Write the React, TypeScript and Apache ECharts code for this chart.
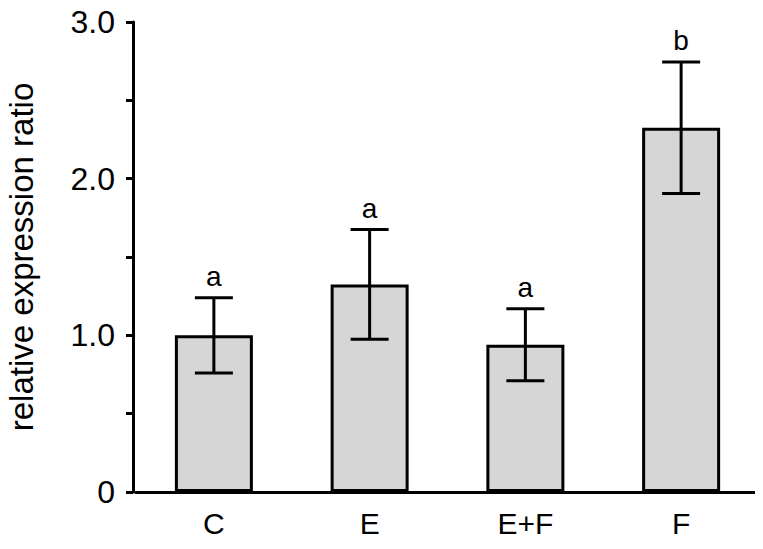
import React, { useEffect, useRef } from "react";
import * as echarts from "echarts";

const categories = ["C", "E", "E+F", "F"];
const means = [1.0, 1.325, 0.94, 2.325];
const errors = [0.24, 0.35, 0.23, 0.42];
const letters = ["a", "a", "a", "b"];
const yTicks = [0, 1, 2, 3];

export default function App() {
  const ref = useRef<HTMLDivElement>(null);
  useEffect(() => {
    const chart = echarts.init(ref.current!, undefined, { renderer: "svg" });
    const font = "Liberation Sans, Arial, sans-serif";
    chart.setOption({
      animation: false,
      grid: { left: 136, right: 4, top: 22, bottom: 57, outerBoundsMode: "none", containLabel: false },
      xAxis: {
        type: "category",
        data: categories,
        axisLine: { lineStyle: { color: "#000", width: 3 } },
        axisTick: { show: false },
        axisLabel: { color: "#000", fontSize: 30, fontFamily: font, margin: 16 },
      },
      yAxis: {
        type: "value",
        min: 0,
        max: 3,
        interval: 0.5,
        offset: 3,
        name: "relative expression ratio",
        nameLocation: "middle",
        nameGap: 95,
        nameTextStyle: { color: "#000", fontSize: 33, fontFamily: font },
        axisLine: { show: true, lineStyle: { color: "#000", width: 3 } },
        axisTick: { show: true, length: 7, lineStyle: { color: "#000", width: 3 } },
        splitLine: { show: false },
        axisLabel: {
          color: "#000",
          fontSize: 32,
          fontFamily: font,
          margin: 18,
          formatter: (v: number) =>
            yTicks.includes(v) ? (v === 0 ? "0" : v.toFixed(1)) : "",
        },
      },
      series: [
        {
          type: "bar",
          data: means,
          barWidth: 78,
          itemStyle: { color: "#d6d6d6", borderColor: "#000", borderWidth: 3 },
        },
        {
          type: "custom",
          data: means.map((m, i) => [i, m, errors[i]]),
          z: 10,
          renderItem: (params: any, api: any) => {
            const i = api.value(0);
            const m = api.value(1);
            const e = api.value(2);
            const top = api.coord([i, m + e]);
            const bot = api.coord([i, m - e]);
            const hw = 19;
            const ls = { stroke: "#000", lineWidth: 3 };
            return {
              type: "group",
              children: [
                { type: "line", shape: { x1: top[0], y1: top[1], x2: bot[0], y2: bot[1] }, style: ls },
                { type: "line", shape: { x1: top[0] - hw, y1: top[1], x2: top[0] + hw, y2: top[1] }, style: ls },
                { type: "line", shape: { x1: bot[0] - hw, y1: bot[1], x2: bot[0] + hw, y2: bot[1] }, style: ls },
                {
                  type: "text",
                  x: top[0],
                  y: top[1] - 7,
                  style: {
                    text: letters[params.dataIndex],
                    fontSize: 28,
                    fontFamily: font,
                    fill: "#000",
                    align: "center",
                    verticalAlign: "bottom",
                  },
                },
              ],
            };
          },
        },
      ],
    });
    return () => chart.dispose();
  }, []);
  return <div ref={ref} style={{ width: 763, height: 549, margin: -8 }} />;
}
